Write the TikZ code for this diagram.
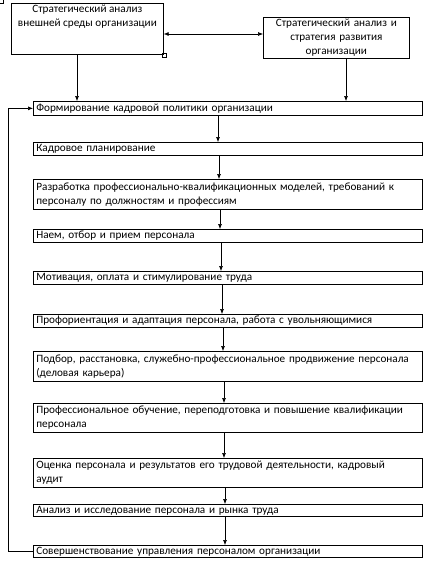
\documentclass[tikz,border=0pt]{standalone}
\usepackage{fontspec}
\setmainfont{Carlito}
\usetikzlibrary{arrows.meta}

\begin{document}
\begin{tikzpicture}[x=1pt, y=-1pt,
    font=\fontsize{11.2}{14}\selectfont,
    every node/.style={draw, line width=0.7pt, inner xsep=3pt, inner ysep=1.5pt},
    box/.style={anchor=north west, text width=383pt, align=left},
    topbox/.style={anchor=north west, text width=140pt, align=center},
    arr/.style={line width=0.6pt, -{Latex[length=5pt, width=4pt]}},
    dblarr/.style={line width=0.6pt, {Latex[length=5pt, width=4pt]}-{Latex[length=5pt, width=4pt]}}]
    \useasboundingbox (0,0) rectangle (439,565);

    % Analysis boxes
    \node[anchor=north west, inner ysep=1.5pt] (env) at (11,3)
        {\parbox[c][48pt][t]{146pt}{\centering Стратегический анализ\\внешней среды организации}};
    \node[topbox, minimum height=41pt] (strat) at (263,17)
        {Стратегический анализ и\\стратегия развития\\организации};
    \draw[dblarr] (env.east |- 0,34) -- (strat.west |- 0,34);

    % selection handles
    \draw[line width=0.5pt] (-1,-1) rectangle (3,3);
    \draw[line width=0.5pt] (162,53) rectangle (166,57);

    % Chain of stages
    \foreach \name/\y/\h/\txt in {
        f1/101/14/{Формирование кадровой политики организации},
        f2/142/13/{Кадровое планирование},
        f3/179/30/{Разработка профессионально-квалификационных моделей, требований к персоналу по должностям и профессиям},
        f4/229/13/{Наем, отбор и прием персонала},
        f5/271/13/{Мотивация, оплата и стимулирование труда},
        f6/314/13/{Профориентация и адаптация персонала, работа с увольняющимися},
        f7/351/30/{Подбор, расстановка, служебно-профессиональное продвижение персонала (деловая карьера)},
        f8/403/29/{Профессиональное обучение, переподготовка и повышение квалификации персонала},
        f9/458/29/{Оценка персонала и результатов его трудовой деятельности, кадровый\\аудит},
        f10/504/12/{Анализ и исследование персонала и рынка труда},
        f11/545/12/{Совершенствование управления персоналом организации}} {
        \node[box, minimum height=\h pt] (\name) at (33,\y) {\txt};
    }

    % Inputs from the analysis
    \draw[arr] (env.south -| 77,0) -- (f1.north -| 77,0);
    \draw[arr] (strat.south -| 346,0) -- (f1.north -| 346,0);

    % Arrows down the chain
    \foreach \a/\b/\x in {f1/f2/218, f2/f3/219, f3/f4/220, f4/f5/221, f5/f6/222,
                          f6/f7/223, f7/f8/224, f8/f9/224, f9/f10/225, f10/f11/225} {
        \draw[arr] (\a.south -| \x,0) -- (\b.north -| \x,0);
    }

    % Feedback loop
    \draw[arr] (f11.west) -- ++(-25,0) |- (f1.west);
\end{tikzpicture}
\end{document}
